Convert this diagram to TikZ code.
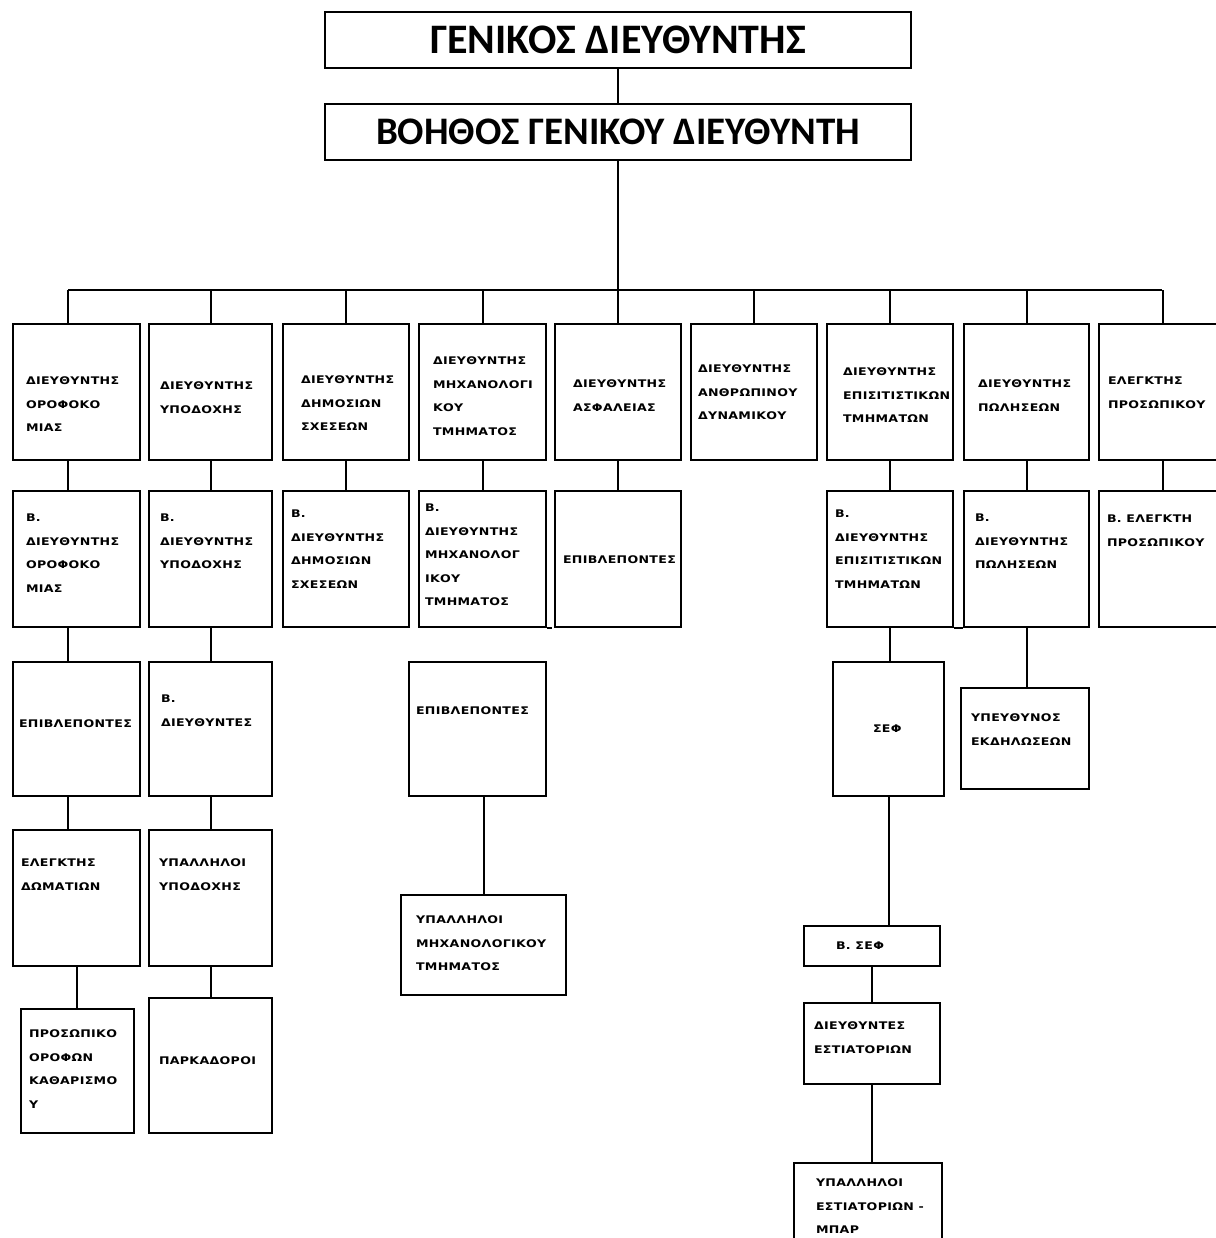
\documentclass[tikz,border=0pt]{standalone}
\usepackage{fontspec}
\usetikzlibrary{positioning,calc}
\newfontfamily\headfont{Carlito}
\newfontfamily\unitfont[FakeStretch=1.2,LetterSpace=3]{DejaVu Sans}
\newcommand{\unitbox}[5]{\parbox[c][#2pt][t]{#1pt}{\raggedright\leftskip=#3pt\relax
  \vspace*{\dimexpr#4pt-4pt\relax}#5}}
\tikzset{
  head/.style={draw, line width=2pt, minimum width=586pt, minimum height=56pt, inner sep=0pt,
    font=\headfont\bfseries\fontsize{40}{44}\selectfont},
  unit/.style={draw, line width=2pt, inner sep=0pt, anchor=north west,
    font=\unitfont\bfseries\fontsize{10.5}{23.5}\selectfont},
  link/.style={line width=2pt},
}

\begin{document}
\begin{tikzpicture}[x=1pt, y=-1pt]
  \useasboundingbox (0,0) rectangle (1215,1238);
  \node[head, font=\headfont\bfseries\fontsize{42}{46}\selectfont] (gm) at (618,40) {ΓΕΝΙΚΟΣ ΔΙΕΥΘΥΝΤΗΣ};
  \node[head, font=\headfont\bfseries\fontsize{39}{44}\selectfont] (agm) at (618,132) {ΒΟΗΘΟΣ ΓΕΝΙΚΟΥ ΔΙΕΥΘΥΝΤΗ};
  \coordinate (busL) at (68,290);
  \coordinate (busR) at (1162,290);

  \foreach \n/\x/\w/\l/\c/\t in {
      d1/12/127/13/57/{ΔΙΕΥΘΥΝΤΗΣ\\ΟΡΟΦΟΚΟ\\ΜΙΑΣ},
      d2/148/123/11/62/{ΔΙΕΥΘΥΝΤΗΣ\\ΥΠΟΔΟΧΗΣ},
      d3/282/126/18/56/{ΔΙΕΥΘΥΝΤΗΣ\\ΔΗΜΟΣΙΩΝ\\ΣΧΕΣΕΩΝ},
      d4/418/127/14/37/{ΔΙΕΥΘΥΝΤΗΣ\\ΜΗΧΑΝΟΛΟΓΙ\\ΚΟΥ\\ΤΜΗΜΑΤΟΣ},
      d5/554/126/18/60/{ΔΙΕΥΘΥΝΤΗΣ\\ΑΣΦΑΛΕΙΑΣ},
      d6/690/126/7/45/{ΔΙΕΥΘΥΝΤΗΣ\\ΑΝΘΡΩΠΙΝΟΥ\\ΔΥΝΑΜΙΚΟΥ},
      d7/826/126/16/48/{ΔΙΕΥΘΥΝΤΗΣ\\ΕΠΙΣΙΤΙΣΤΙΚΩΝ\\ΤΜΗΜΑΤΩΝ},
      d8/963/125/14/60/{ΔΙΕΥΘΥΝΤΗΣ\\ΠΩΛΗΣΕΩΝ},
      d9/1098/127/9/57/{ΕΛΕΓΚΤΗΣ\\ΠΡΟΣΩΠΙΚΟΥ}}
    \node[unit] (\n) at (\x,323) {\unitbox{\w}{136}{\l}{\c}{\t}};

  \foreach \n/\x/\w/\l/\c/\t in {
      a1/12/127/13/27/{Β.\\ΔΙΕΥΘΥΝΤΗΣ\\ΟΡΟΦΟΚΟ\\ΜΙΑΣ},
      a2/148/123/11/27/{Β.\\ΔΙΕΥΘΥΝΤΗΣ\\ΥΠΟΔΟΧΗΣ},
      a3/282/126/8/23/{Β.\\ΔΙΕΥΘΥΝΤΗΣ\\ΔΗΜΟΣΙΩΝ\\ΣΧΕΣΕΩΝ},
      a4/418/127/6/17/{Β.\\ΔΙΕΥΘΥΝΤΗΣ\\ΜΗΧΑΝΟΛΟΓ\\ΙΚΟΥ\\ΤΜΗΜΑΤΟΣ},
      a5/554/126/8/69/{ΕΠΙΒΛΕΠΟΝΤΕΣ},
      a7/826/126/8/23/{Β.\\ΔΙΕΥΘΥΝΤΗΣ\\ΕΠΙΣΙΤΙΣΤΙΚΩΝ\\ΤΜΗΜΑΤΩΝ},
      a8/963/125/11/27/{Β.\\ΔΙΕΥΘΥΝΤΗΣ\\ΠΩΛΗΣΕΩΝ},
      a9/1098/127/8/28/{Β. ΕΛΕΓΚΤΗ\\ΠΡΟΣΩΠΙΚΟΥ}}
    \node[unit] (\n) at (\x,490) {\unitbox{\w}{136}{\l}{\c}{\t}};

  \node[unit] (s1) at (12,661) {\unitbox{127}{134}{6}{62}{ΕΠΙΒΛΕΠΟΝΤΕΣ}};
  \node[unit] (s2) at (148,661) {\unitbox{123}{134}{12}{37}{Β.\\ΔΙΕΥΘΥΝΤΕΣ}};
  \node[unit] (s4) at (408,661) {\unitbox{137}{134}{7}{49}{ΕΠΙΒΛΕΠΟΝΤΕΣ}};
  \node[unit] (chef) at (832,661) {\unitbox{111}{134}{40}{67}{ΣΕΦ}};
  \node[unit] (events) at (960,687) {\unitbox{128}{101}{10}{30}{ΥΠΕΥΘΥΝΟΣ\\ΕΚΔΗΛΩΣΕΩΝ}};

  \node[unit] (r1) at (12,829) {\unitbox{127}{136}{8}{33}{ΕΛΕΓΚΤΗΣ\\ΔΩΜΑΤΙΩΝ}};
  \node[unit] (r2) at (148,829) {\unitbox{123}{136}{10}{33}{ΥΠΑΛΛΗΛΟΙ\\ΥΠΟΔΟΧΗΣ}};
  \node[unit] (engstaff) at (400,894) {\unitbox{165}{100}{15}{25}{ΥΠΑΛΛΗΛΟΙ\\ΜΗΧΑΝΟΛΟΓΙΚΟΥ\\ΤΜΗΜΑΤΟΣ}};
  \node[unit] (souschef) at (803,925) {\unitbox{136}{40}{32}{20}{Β. ΣΕΦ}};

  \node[unit] (hkstaff) at (20,1008) {\unitbox{113}{124}{8}{25}{ΠΡΟΣΩΠΙΚΟ\\ΟΡΟΦΩΝ\\ΚΑΘΑΡΙΣΜΟ\\Υ}};
  \node[unit] (valets) at (148,997) {\unitbox{123}{135}{10}{63}{ΠΑΡΚΑΔΟΡΟΙ}};
  \node[unit] (restmgr) at (803,1002) {\unitbox{136}{81}{10}{23}{ΔΙΕΥΘΥΝΤΕΣ\\ΕΣΤΙΑΤΟΡΙΩΝ}};
  \node[unit] (reststaff) at (793,1162) {\unitbox{148}{100}{22}{20}{ΥΠΑΛΛΗΛΟΙ\\ΕΣΤΙΑΤΟΡΙΩΝ -\\ΜΠΑΡ}};

  \draw[link] (gm) -- (agm);
  \draw[link] (agm.south) -- (agm.south |- busL);
  \draw[link] (busL) -- (busR);
  \draw[link] (busL) -- (busL |- d1.north);
  \foreach \n in {d2,d3,d4,d5,d6,d7,d8,d9}
    \draw[link] (\n.north) -- (\n.north |- busL);

  \draw[link] (busL |- d1.south) -- (busL |- a1.north);
  \foreach \u/\l in {d2/a2, d3/a3, d4/a4, d5/a5, d7/a7, d8/a8, d9/a9}
    \draw[link] (\u.south) -- (\u.south |- \l.north);
  \draw[link] (a4.south east) -- ++(5,0);
  \draw[link] (a7.south east) -- (a8.south west);

  \draw[link] (busL |- a1.south) -- (busL |- s1.north);
  \draw[link] (a2.south) -- (a2.south |- s2.north);
  \draw[link] (a7.south) -- (a7.south |- chef.north);
  \draw[link] (a8.south) -- (a8.south |- events.north);

  \draw[link] (busL |- s1.south) -- (busL |- r1.north);
  \draw[link] (s2.south) -- (s2.south |- r2.north);
  \draw[link] (engstaff.north |- s4.south) -- (engstaff.north);
  \draw[link] (chef.south) -- (chef.south |- souschef.north);

  \draw[link] (r1.south) -- (r1.south |- hkstaff.north);
  \draw[link] (r2.south) -- (r2.south |- valets.north);
  \draw[link] (souschef) -- (restmgr);
  \draw[link] (restmgr.south) -- (restmgr.south |- reststaff.north);
\end{tikzpicture}
\end{document}
